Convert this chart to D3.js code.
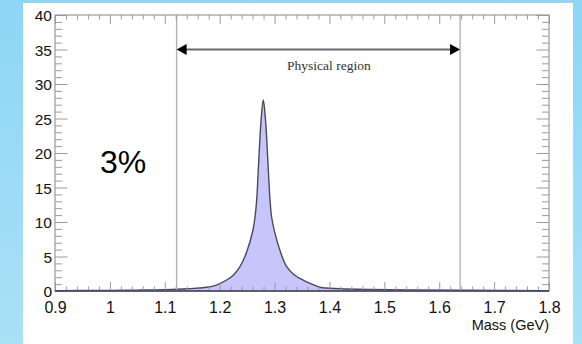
<!DOCTYPE html>
<html>
<head>
<meta charset="utf-8">
<script src="https://cdn.jsdelivr.net/npm/d3@7"></script>
<style>
  html, body { margin: 0; padding: 0; }
  body { width: 582px; height: 344px; overflow: hidden; }
</style>
</head>
<body>
<svg id="chart" width="582" height="344"></svg>
<script>
// values
const massGeV = [0.90, 1.00, 1.05, 1.10, 1.14, 1.1764, 1.195, 1.2128, 1.226, 1.237, 1.249, 1.2607, 1.2645,
  1.2675, 1.2700, 1.2722, 1.2755, 1.2795, 1.2835, 1.2868, 1.2890, 1.2917, 1.2945, 1.300, 1.311, 1.3221,
  1.335, 1.3518, 1.365, 1.3828, 1.42, 1.47, 1.55, 1.65, 1.80];
const yieldValues = [0.05, 0.09, 0.13, 0.20, 0.32, 0.54, 0.90, 1.59, 2.4, 3.52, 5.6, 8.84, 10.8,
  13.2, 17.0, 20.4, 24.8, 27.7, 24.8, 20.4, 17.0, 13.2, 10.8, 8.6, 5.6, 3.52,
  2.4, 1.59, 1.1, 0.54, 0.33, 0.22, 0.15, 0.10, 0.06];

const xTickValues = [0.9, 1.0, 1.1, 1.2, 1.3, 1.4, 1.5, 1.6, 1.7, 1.8];
const xTickLabels = ["0.9", "1", "1.1", "1.2", "1.3", "1.4", "1.5", "1.6", "1.7", "1.8"];
const yTickValues = [0, 5, 10, 15, 20, 25, 30, 35, 40];
const yTickLabels = ["0", "5", "10", "15", "20", "25", "30", "35", "40"];
const regionEdges = [1.1216, 1.638];
const regionArrowY = 35;
const regionLabel = "Physical region";
const resolutionLabel = "3%";
const xTitle = "Mass (GeV)";

const WIDTH = 582, HEIGHT = 344;
const margin = { top: 15, right: 33, bottom: 53, left: 55 };
const plotW = WIDTH - margin.left - margin.right;
const plotH = HEIGHT - margin.top - margin.bottom;

const svg = d3.select("#chart");

// blue backdrop with white panel
const defs = svg.append("defs");
const grad = defs.append("linearGradient")
  .attr("id", "bg-grad")
  .attr("x1", 0).attr("y1", 0).attr("x2", 0).attr("y2", 1);
grad.append("stop").attr("offset", "0%").attr("stop-color", "#8dd6f6");
grad.append("stop").attr("offset", "100%").attr("stop-color", "#a9e1f6");

svg.append("rect")
  .attr("width", WIDTH).attr("height", HEIGHT)
  .style("fill", "url(#bg-grad)");
svg.append("rect")
  .attr("x", 23).attr("y", 3)
  .attr("width", 550).attr("height", HEIGHT - 3)
  .style("fill", "#ffffff");

const x = d3.scaleLinear().domain([0.9, 1.8]).range([0, plotW]);
const y = d3.scaleLinear().domain([0, 40]).range([plotH, 0]);

const g = svg.append("g")
  .attr("transform", `translate(${margin.left},${margin.top})`);

const points = massGeV.map((m, i) => ({ m: m, v: yieldValues[i] }));

// filled peak
const area = d3.area()
  .x(d => x(d.m))
  .y0(y(0))
  .y1(d => y(d.v))
  .curve(d3.curveCatmullRom.alpha(0.5));
const line = d3.line()
  .x(d => x(d.m))
  .y(d => y(d.v))
  .curve(d3.curveCatmullRom.alpha(0.5));

g.append("path")
  .datum(points)
  .attr("d", area)
  .style("fill", "#c6c6fb")
  .style("stroke", "none");
g.append("path")
  .datum(points)
  .attr("d", line)
  .style("fill", "none")
  .style("stroke", "#4a4a55")
  .style("stroke-width", 1.4);

// vertical boundaries of the physical region
g.selectAll(".edge")
  .data(regionEdges)
  .join("line")
  .attr("class", "edge")
  .attr("x1", d => x(d)).attr("x2", d => x(d))
  .attr("y1", 0).attr("y2", plotH)
  .style("stroke", "#b4b4b4")
  .style("stroke-width", 1.4);

// double arrow
const ay = y(regionArrowY);
const xa = x(regionEdges[0]), xb = x(regionEdges[1]);
g.append("line")
  .attr("x1", xa + 8).attr("x2", xb - 8)
  .attr("y1", ay).attr("y2", ay)
  .style("stroke", "#6a6a6a")
  .style("stroke-width", 2);
g.append("path")
  .attr("d", `M${xa},${ay} L${xa + 10},${ay - 5.5} L${xa + 10},${ay + 5.5} Z`)
  .style("fill", "#000");
g.append("path")
  .attr("d", `M${xb},${ay} L${xb - 10},${ay - 5.5} L${xb - 10},${ay + 5.5} Z`)
  .style("fill", "#000");

g.append("text")
  .attr("x", (xa + xb) / 2 + 10.5)
  .attr("y", ay + 20.5)
  .attr("text-anchor", "middle")
  .style("font-family", "'Liberation Serif', 'Times New Roman', serif")
  .style("font-size", "13.5px")
  .style("fill", "#333")
  .text(regionLabel);

// axes: ROOT style ticks pointing inward on all four sides
const xMinor = d3.range(0.9, 1.8001, 0.02).filter(v => Math.abs(Math.round(v * 10) - v * 10) > 1e-6);
const yMinor = d3.range(0, 40.001, 1).filter(v => v % 5 !== 0);

function styleAxis(sel) {
  sel.select(".domain").remove();
  sel.selectAll(".tick line").style("stroke", "#9a9a9a").style("stroke-width", 1);
}

g.append("g")
  .attr("transform", `translate(0,${plotH})`)
  .call(d3.axisBottom(x).tickValues(xMinor).tickSize(-4.5).tickFormat(""))
  .call(styleAxis);
const xAxis = g.append("g")
  .attr("transform", `translate(0,${plotH})`)
  .call(d3.axisBottom(x).tickValues(xTickValues).tickSize(-9)
    .tickFormat((d, i) => xTickLabels[i]))
  .call(styleAxis);
xAxis.selectAll(".tick text")
  .attr("y", 21.5).attr("dy", 0)
  .style("font-family", "'Liberation Sans', Arial, sans-serif")
  .style("font-size", "16px")
  .style("fill", "#111");

g.append("g")
  .call(d3.axisTop(x).tickValues(xMinor).tickSize(-4.5).tickFormat(""))
  .call(styleAxis);
g.append("g")
  .call(d3.axisTop(x).tickValues(xTickValues).tickSize(-9).tickFormat(""))
  .call(styleAxis);

g.append("g")
  .call(d3.axisLeft(y).tickValues(yMinor).tickSize(-7).tickFormat(""))
  .call(styleAxis);
const yAxis = g.append("g")
  .call(d3.axisLeft(y).tickValues(yTickValues).tickSize(-12.5)
    .tickFormat((d, i) => yTickLabels[i]))
  .call(styleAxis);
yAxis.selectAll(".tick text")
  .attr("x", -3).attr("dy", "0.36em")
  .style("font-family", "'Liberation Sans', Arial, sans-serif")
  .style("font-size", "15.5px")
  .style("fill", "#111");

g.append("g")
  .attr("transform", `translate(${plotW},0)`)
  .call(d3.axisRight(y).tickValues(yMinor).tickSize(-7).tickFormat(""))
  .call(styleAxis);
g.append("g")
  .attr("transform", `translate(${plotW},0)`)
  .call(d3.axisRight(y).tickValues(yTickValues).tickSize(-12.5).tickFormat(""))
  .call(styleAxis);

// frame
g.append("rect")
  .attr("width", plotW).attr("height", plotH)
  .style("fill", "none")
  .style("stroke", "#9a9a9a")
  .style("stroke-width", 1.2);
g.append("line")
  .attr("x1", 0).attr("x2", plotW)
  .attr("y1", plotH).attr("y2", plotH)
  .style("stroke", "#3c3c66")
  .style("stroke-width", 1.6);

// labels
g.append("text")
  .attr("x", plotW)
  .attr("y", plotH + 39)
  .attr("text-anchor", "end")
  .style("font-family", "'Liberation Sans', Arial, sans-serif")
  .style("font-size", "14.5px")
  .style("fill", "#111")
  .text(xTitle);

svg.append("text")
  .attr("x", 100)
  .attr("y", 173)
  .style("font-family", "'Liberation Sans', Arial, sans-serif")
  .style("font-size", "32px")
  .style("fill", "#000")
  .text(resolutionLabel);
</script>
</body>
</html>
